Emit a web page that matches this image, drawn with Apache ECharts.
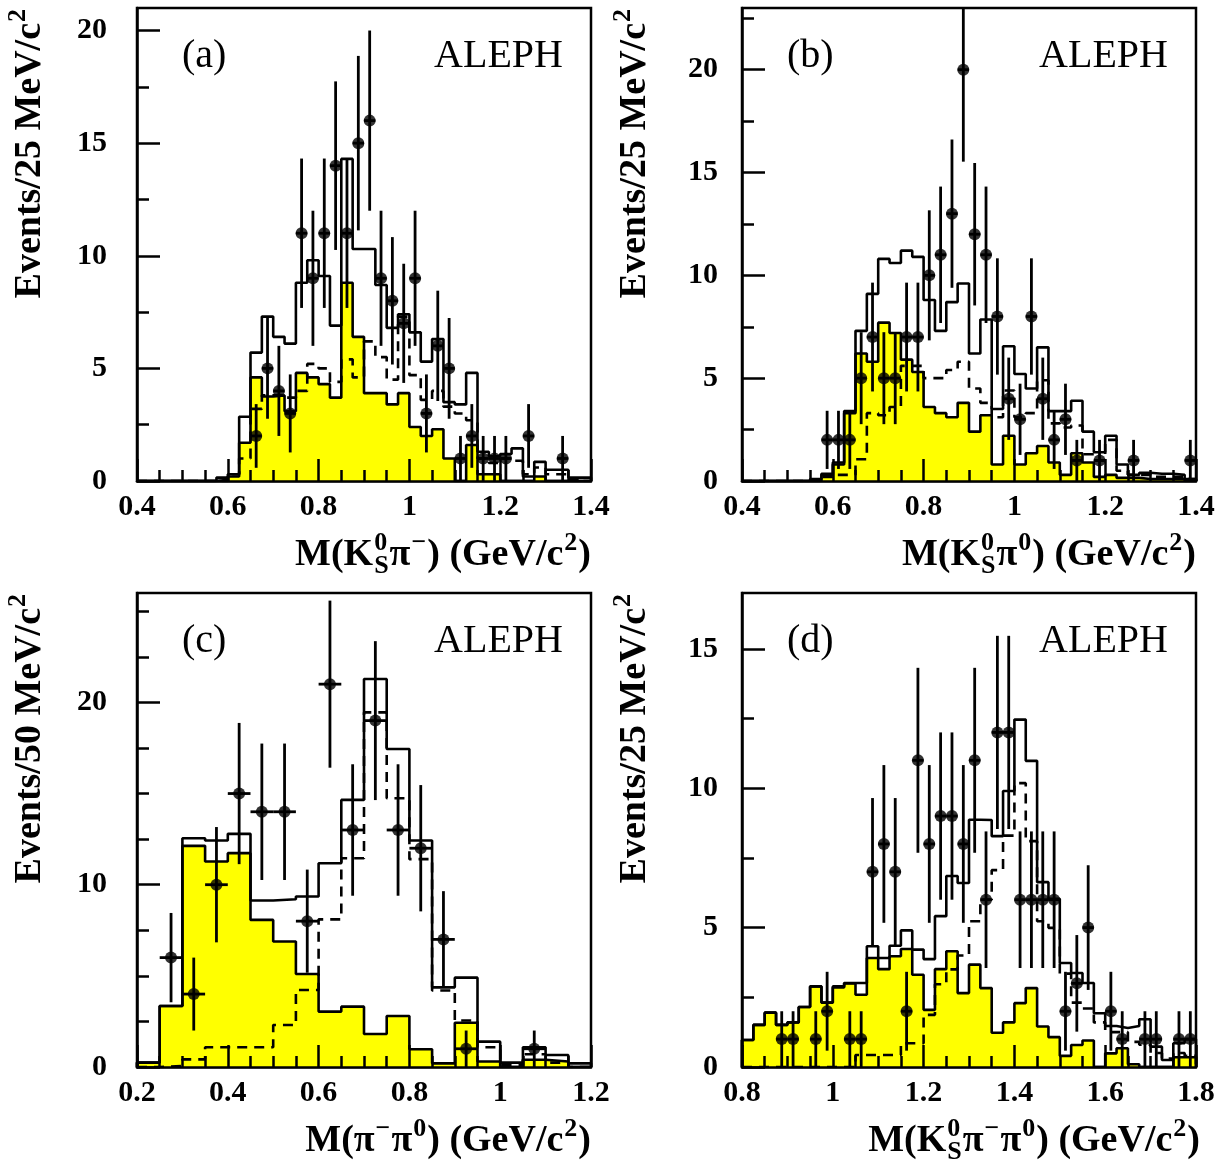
<!DOCTYPE html>
<html>
<head>
<meta charset="utf-8">
<script src="https://cdn.jsdelivr.net/npm/echarts@6/dist/echarts.min.js"></script>
<style>
  html, body { margin: 0; padding: 0; background: #fff; }
  #chart { width: 1226px; height: 1163px; }
</style>
</head>
<body>
<div id="chart"></div>
<script>
// (a) M(K0S pi-), 25 MeV bins from 0.4
const aTotal  = [0,0,0,0,0,0,0,0.15,0.3,2.85, 5.7,7.3,6.4,6.1,8.8,9.8,9.1,6.9,14.3,10.3, 10.3,8.7,6.8,7.4,6.6,5.3,6.3,3.5,3.4,4.8, 1.3,1.1,1.2,1.45,0.2,0.85,0.5,0.5,0.15,0.15];
const aYellow = [0,0,0,0,0,0,0,0.05,0.2,1.7, 4.6,3.75,3.8,3.1,4.8,4.6,4.3,3.7,8.8,6.4, 3.9,3.9,3.4,3.9,2.4,2.0,2.3,1.0,0,1.6, 0.3,0.3,0,0,0,0.2,0,0,0,0];
const aDashed = [0,0,0,0,0,0,0,0,0.3,1.0, 3.2,3.8,3.8,3.7,4.0,5.2,5.0,4.4,5.4,4.6, 6.2,5.5,4.5,7.3,4.7,3.6,4.0,3.3,3.0,2.7, 1.0,0.8,1.0,0.9,0.3,0.6,0.3,0.3,0.1,0];
const aPtX = [0.6625,0.6875,0.7125,0.7375,0.7625,0.7875,0.8125,0.8375,0.8625,0.8875,0.9125,0.9375,0.9625,0.9875,1.0125,1.0375,1.0625,1.0875,1.1125,1.1375,1.1625,1.1875,1.2125,1.2625,1.3375];
const aPtN = [2,5,4,3,11,9,11,14,11,15,16,9,8,7,9,3,6,5,1,2,1,1,1,2,1];

// (b) M(K0S pi0), 25 MeV bins from 0.4
const bTotal  = [0,0,0,0,0,0,0.1,0.35,0.8,3.4, 7.3,9.1,10.8,10.6,11.2,10.9,8.8,7.3,8.7,9.6, 6.2,7.85,3.5,6.55,5.2,4.5,6.5,3.4,3.4,3.9, 2.4,1.4,2.2,0.8,0.3,0.4,0.35,0.35,0.3,0.1];
const bYellow = [0,0,0,0,0,0,0,0.3,0.9,3.3, 6.2,5.8,7.7,7.2,5.9,5.3,3.6,3.3,3.1,3.8, 2.4,3.2,0.8,2.2,0.8,1.35,1.7,0.9,0.3,1.35, 0.9,0.2,0.3,0.15,0.15,0.1,0.1,0.1,0.1,0];
const bDashed = [0,0,0,0,0,0,0,0.2,0.3,0.3, 1.06,3.3,3.2,3.6,5.6,5.6,5.0,5.0,5.4,5.8, 4.5,3.8,3.1,4.4,3.1,3.3,4.9,2.8,2.6,2.7, 1.3,1.0,2.0,0.5,0.3,0.3,0.2,0.2,0.2,0.1];
const bPtX = [0.5875,0.6125,0.6375,0.6625,0.6875,0.7125,0.7375,0.7625,0.7875,0.8125,0.8375,0.8625,0.8875,0.9125,0.9375,0.9625,0.9875,1.0125,1.0375,1.0625,1.0875,1.1125,1.1375,1.1875,1.2625,1.3875];
const bPtN = [2,2,2,5,7,5,5,7,7,10,11,13,20,12,11,8,4,3,8,4,2,3,1,1,1,1];

// (c) M(pi- pi0), 50 MeV bins from 0.2
const cTotal  = [0.24,3.35,12.55,12.42,12.79,9.13,9.2,9.35,11.18,14.65, 21.28,17.44,12.42,4.37,4.9,1.39,0.24,1.08,0.66,0.2];
const cYellow = [0.24,3.35,12.13,11.27,11.73,8.07,6.88,5.1,3.04,3.31, 1.81,2.8,0.97,0.2,2.43,0.3,0,0.4,0.3,0];
const cDashed = [0,0.05,0.42,1.08,1.08,1.08,2.3,4.22,8.1,11.45, 19.45,14.74,11.4,4.2,2.55,1.08,0.1,0.7,0.24,0];
const cPtX = [0.275,0.325,0.375,0.425,0.475,0.525,0.575,0.625,0.675,0.725,0.775,0.825,0.875,0.925,1.075];
const cPtN = [6,4,10,15,14,14,8,21,13,19,13,12,7,1,1];

// (d) M(K0S pi- pi0), 25 MeV bins from 0.8
const dTotal  = [0.97,1.51,1.95,1.51,1.6,2.15,2.89,2.31,2.89,3.01, 3.01,4.33,3.91,4.35,4.9,4.21,3.87,5.41,6.85,6.6, 8.87,8.86,8.28,9.9,12.46,10.98,6.63,6.03,3.73,3.37, 3.01,1.93,1.47,1.4,1.47,1.71,0.73,0.25,0.85,1.0];
const dYellow = [0.97,1.51,1.95,1.51,1.6,2.15,2.89,2.31,2.85,3.0, 2.59,3.91,3.51,3.97,4.23,3.31,2.05,3.51,4.15,2.65, 3.67,2.83,1.23,1.6,2.29,2.83,1.45,1.07,0.4,0.79, 0.95,0,0.49,0.67,0.1,0,0,0,0.35,0.35];
const dDashed = [0,0,0,0,0,0,0,0,0,0, 0.43,0.43,0.43,0.43,0.85,0.85,1.87,2.97,3.5,4.0, 5.23,6.0,7.06,8.3,10.18,8.1,5.23,4.99,3.35,2.31, 2.1,1.6,1.25,1.25,0.9,0.8,0.5,0.3,0.5,0.4];
const dPtX = [0.8875,0.9125,0.9625,0.9875,1.0375,1.0625,1.0875,1.1125,1.1375,1.1625,1.1875,1.2125,1.2375,1.2625,1.2875,1.3125,1.3375,1.3625,1.3875,1.4125,1.4375,1.4625,1.4875,1.5125,1.5375,1.5625,1.6125,1.6375,1.6875,1.7125,1.7625,1.7875];
const dPtN = [1,1,1,2,1,1,7,8,7,2,11,8,9,9,8,11,6,12,12,6,6,6,6,2,3,5,2,1,1,1,1,1];

// tick labels
const abXTicks = [0.4, 0.6, 0.8, 1, 1.2, 1.4];
const cXTicks = [0.2, 0.4, 0.6, 0.8, 1, 1.2];
const dXTicks = [0.8, 1, 1.2, 1.4, 1.6, 1.8];
const aYTicks = [0, 5, 10, 15, 20];
const bYTicks = [0, 5, 10, 15, 20];
const cYTicks = [0, 10, 20];
const dYTicks = [0, 5, 10, 15];

const FONT = '"Liberation Serif", "Times New Roman", serif';

const panels = [
  { left: 137, top: 8,   h: 473, x0: 0.4, x1: 1.4, y1: 21, bin: 0.025, total: aTotal, yellow: aYellow, dashed: aDashed, ptX: aPtX, ptN: aPtN, xt: abXTicks, yt: aYTicks, lm: 30, tag: '(a)', ev: '25', xEnd: 591,
    xTitle: ['M(K', { sup: '0', sub: 'S' }, 'π', { sup: '−' }, ') (GeV/c', { sup: '2' }, ')'] },
  { left: 742, top: 8,   h: 473, x0: 0.4, x1: 1.4, y1: 23, bin: 0.025, total: bTotal, yellow: bYellow, dashed: bDashed, ptX: bPtX, ptN: bPtN, xt: abXTicks, yt: bYTicks, lm: 24, tag: '(b)', ev: '25', xEnd: 1196,
    xTitle: ['M(K', { sup: '0', sub: 'S' }, 'π', { sup: '0' }, ') (GeV/c', { sup: '2' }, ')'] },
  { left: 137, top: 593, h: 474, x0: 0.2, x1: 1.2, y1: 26, bin: 0.05, total: cTotal, yellow: cYellow, dashed: cDashed, ptX: cPtX, ptN: cPtN, xt: cXTicks, yt: cYTicks, lm: 30, tag: '(c)', ev: '50', xEnd: 591,
    xTitle: ['M(π', { sup: '−' }, 'π', { sup: '0' }, ') (GeV/c', { sup: '2' }, ')'] },
  { left: 742, top: 593, h: 474, x0: 0.8, x1: 1.8, y1: 17, bin: 0.025, total: dTotal, yellow: dYellow, dashed: dDashed, ptX: dPtX, ptN: dPtN, xt: dXTicks, yt: dYTicks, lm: 24, tag: '(d)', ev: '25', xEnd: 1200,
    xTitle: ['M(K', { sup: '0', sub: 'S' }, 'π', { sup: '−' }, 'π', { sup: '0' }, ') (GeV/c', { sup: '2' }, ')'] }
];

// step-histogram points for a line series with step:'end'
function steps(x0, w, vals) {
  const out = [[x0, 0]];
  vals.forEach((v, i) => out.push([+(x0 + i * w).toFixed(4), v]));
  const xe = +(x0 + vals.length * w).toFixed(4);
  out.push([xe, vals[vals.length - 1]]);
  out.push([xe, 0]);
  return out;
}

function minors(lo, hi, step, majors) {
  const r = [];
  for (let k = Math.ceil(lo / step - 1e-9); k * step <= hi + 1e-9; k++) {
    const v = +(k * step).toFixed(4);
    if (!majors.some(m => Math.abs(m - v) < 1e-6) && v > lo && v < hi) r.push(v);
  }
  return r;
}

// text with super/subscripts as a group of text pieces
const mctx = document.createElement('canvas').getContext('2d');
function tw(t, font) { mctx.font = font; return mctx.measureText(t).width; }
function mathText(parts, size) {
  const small = Math.round(size * 0.68);
  const fBig = 'bold ' + size + 'px ' + FONT;
  const fSmall = 'bold ' + small + 'px ' + FONT;
  const kids = [];
  let x = 0;
  const piece = (t, px, base, f, s) => kids.push({
    type: 'text', x: px, y: base - 0.34 * s,
    style: { text: t, font: f, fill: '#000', verticalAlign: 'middle', align: 'left' }
  });
  parts.forEach(p => {
    if (typeof p === 'string') {
      piece(p, x, 0, fBig, size);
      x += tw(p, fBig);
    } else {
      let w = 0;
      if (p.sup) { piece(p.sup, x + 1, -0.42 * size, fSmall, small); w = Math.max(w, tw(p.sup, fSmall)); }
      if (p.sub) { piece(p.sub, x + 1, 0.2 * size, fSmall, small); w = Math.max(w, tw(p.sub, fSmall)); }
      x += w + 2;
    }
  });
  return { kids, width: x };
}

const grid = [], xAxis = [], yAxis = [], series = [], graphic = [];
const tickStyle = { color: '#000', width: 2.5 };
const labelStyle = { color: '#000', fontSize: 30, fontWeight: 'bold', fontFamily: FONT };

panels.forEach((p, i) => {
  grid.push({ left: p.left, top: p.top, width: 454, height: p.h, show: true, borderColor: '#000', borderWidth: 2.5, backgroundColor: 'transparent' });

  xAxis.push({
    gridIndex: i, type: 'value', min: p.x0, max: p.x1, position: 'bottom', z: 10,
    axisLine: { show: true, onZero: false, lineStyle: tickStyle },
    axisTick: { show: true, inside: true, length: 22, lineStyle: tickStyle, customValues: p.xt },
    axisLabel: Object.assign({ customValues: p.xt, margin: 11 }, labelStyle),
    splitLine: { show: false }
  });
  xAxis.push({
    gridIndex: i, type: 'value', min: p.x0, max: p.x1, position: 'bottom', z: 10,
    axisLine: { show: false },
    axisTick: { show: true, inside: true, length: 11, lineStyle: tickStyle, customValues: minors(p.x0, p.x1, 0.05, p.xt) },
    axisLabel: { show: false }, splitLine: { show: false }
  });
  yAxis.push({
    gridIndex: i, type: 'value', min: 0, max: p.y1, position: 'left', z: 10,
    axisLine: { show: true, onZero: false, lineStyle: tickStyle },
    axisTick: { show: true, inside: true, length: 23, lineStyle: tickStyle, customValues: p.yt },
    axisLabel: Object.assign({ customValues: p.yt, margin: p.lm }, labelStyle),
    splitLine: { show: false }
  });
  yAxis.push({
    gridIndex: i, type: 'value', min: 0, max: p.y1, position: 'left', z: 10,
    axisLine: { show: false },
    axisTick: { show: true, inside: true, length: 12, lineStyle: tickStyle, customValues: minors(0, p.y1, 2.5, p.yt) },
    axisLabel: { show: false }, splitLine: { show: false }
  });

  const ax = { xAxisIndex: 2 * i, yAxisIndex: 2 * i };
  series.push(Object.assign({
    type: 'line', step: 'end', showSymbol: false, silent: true, z: 2,
    data: steps(p.x0, p.bin, p.yellow),
    lineStyle: { color: '#000', width: 2.6 },
    areaStyle: { color: '#ffff00', opacity: 1 }
  }, ax));
  series.push(Object.assign({
    type: 'line', step: 'end', showSymbol: false, silent: true, z: 3,
    data: steps(p.x0, p.bin, p.dashed),
    lineStyle: { color: '#000', width: 2.6, type: [10, 7] }
  }, ax));
  series.push(Object.assign({
    type: 'line', step: 'end', showSymbol: false, silent: true, z: 4,
    data: steps(p.x0, p.bin, p.total),
    lineStyle: { color: '#000', width: 2.6 }
  }, ax));
  series.push(Object.assign({
    type: 'custom', z: 5, silent: true, clip: true,
    data: p.ptX.map((x, k) => [x, p.ptN[k], p.bin / 2]),
    renderItem: (params, api) => {
      const x = api.value(0), n = api.value(1), hw = api.value(2);
      const e = Math.sqrt(n);
      const t = api.coord([x, n + e]), b = api.coord([x, n - e]);
      const l = api.coord([x - hw, n]), r = api.coord([x + hw, n]);
      const st = { stroke: '#000', lineWidth: 2.8 };
      return { type: 'group', children: [
        { type: 'line', shape: { x1: t[0], y1: t[1], x2: b[0], y2: b[1] }, style: st },
        { type: 'line', shape: { x1: l[0], y1: l[1], x2: r[0], y2: r[1] }, style: st }
      ] };
    }
  }, ax));
  series.push(Object.assign({
    type: 'scatter', z: 6, silent: true, symbol: 'circle', symbolSize: 12,
    itemStyle: { color: '#000' },
    data: p.ptX.map((x, k) => [x, p.ptN[k]])
  }, ax));

  // panel tag and experiment label
  graphic.push({ type: 'text', x: p.left + 45, y: p.top + 48, z: 20,
    style: { text: p.tag, font: '40px ' + FONT, fill: '#000', verticalAlign: 'middle' } });
  graphic.push({ type: 'text', x: p.left + 426, y: p.top + 48, z: 20,
    style: { text: 'ALEPH', font: '40px ' + FONT, fill: '#000', align: 'right', verticalAlign: 'middle' } });

  // x title, right-aligned at the axis end
  const xt = mathText(p.xTitle, 38);
  graphic.push({ type: 'group', x: p.xEnd - xt.width, y: p.top + p.h + 87, children: xt.kids });

  // y title, rotated, top-aligned
  const yt = mathText(['Events/' + p.ev + ' MeV/c', { sup: '2' }], 38);
  graphic.push({ type: 'group', x: p.left - 94, y: p.top + yt.width, rotation: Math.PI / 2, children: yt.kids });
});

const chart = echarts.init(document.getElementById('chart'), null, { renderer: 'canvas' });
chart.setOption({
  animation: false,
  backgroundColor: '#fff',
  grid, xAxis, yAxis, series, graphic
});
</script>
</body>
</html>
